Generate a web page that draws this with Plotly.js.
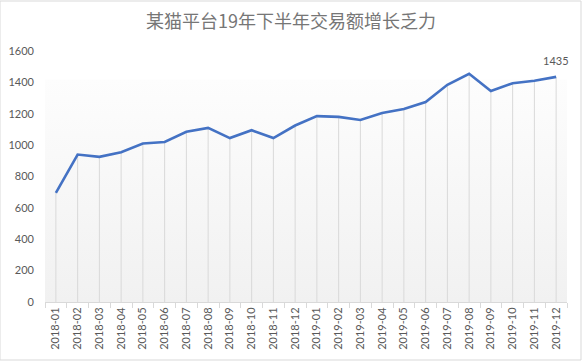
<!DOCTYPE html>
<html>
<head>
<meta charset="utf-8">
<script src="https://cdn.plot.ly/plotly-3.0.1.min.js"></script>
<style>html,body{margin:0;padding:0;background:#fff;}#chart{width:582px;height:361px;}</style>
</head>
<body>
<div id="chart"></div>
<script>
const months = ["2018-01","2018-02","2018-03","2018-04","2018-05","2018-06","2018-07","2018-08","2018-09","2018-10","2018-11","2018-12",
                "2019-01","2019-02","2019-03","2019-04","2019-05","2019-06","2019-07","2019-08","2019-09","2019-10","2019-11","2019-12"];
const amounts = [695, 940, 925, 955, 1010, 1020, 1085, 1110, 1045, 1095, 1045, 1125,
                 1185, 1180, 1160, 1205, 1230, 1275, 1385, 1455, 1345, 1395, 1410, 1435];
const yTicks = [0, 200, 400, 600, 800, 1000, 1200, 1400, 1600];
const titleText = "某猫平台19年下半年交易额增长乏力";

const lastIdx = amounts.length - 1;

const gradSvg = '<svg xmlns="http://www.w3.org/2000/svg" width="10" height="100" preserveAspectRatio="none"><defs><linearGradient id="g" x1="0" y1="0" x2="0" y2="1"><stop offset="0" stop-color="#fdfdfd"/><stop offset="1" stop-color="#f1f1f1"/></linearGradient></defs><rect width="10" height="100" fill="url(#g)"/></svg>';
const gradUri = "data:image/svg+xml;base64," + btoa(gradSvg);

const numFont = {family: "Lato, 'Liberation Sans', sans-serif", size: 11, color: "#595959"};

const traces = [
  { // drop lines
    x: months, y: amounts, type: "scatter", mode: "markers",
    marker: {size: 0.1, opacity: 0},
    error_y: {type: "data", symmetric: false, array: amounts.map(() => 0), arrayminus: amounts,
              color: "#d9d9d9", thickness: 1, width: 0},
    hoverinfo: "skip", showlegend: false, xaxis: "x", yaxis: "y"
  },
  { // tick helper on boundaries
    x: months, y: amounts, type: "scatter", mode: "none", hoverinfo: "skip",
    showlegend: false, xaxis: "x2", yaxis: "y"
  },
  {
    x: months, y: amounts, type: "scatter", mode: "lines",
    line: {color: "#4472c4", width: 2.6},
    showlegend: false, xaxis: "x", yaxis: "y"
  }
];

const layout = {
  width: 582, height: 361,
  margin: {l: 45, r: 15, t: 51, b: 59},
  paper_bgcolor: "#ffffff", plot_bgcolor: "rgba(0,0,0,0)",
  title: {text: titleText, x: 0.5, xanchor: "center", y: 0.94, yanchor: "middle",
          font: {family: "'Noto Sans CJK SC', sans-serif", size: 18, color: "#767676"}},
  xaxis: {
    type: "category", categoryorder: "array", categoryarray: months,
    range: [-0.5, months.length - 0.5],
    showgrid: false, zeroline: false, showline: true, linecolor: "#d9d9d9", linewidth: 1,
    ticks: "", tickangle: -90, tickfont: numFont, fixedrange: true
  },
  xaxis2: {
    type: "category", categoryorder: "array", categoryarray: months,
    overlaying: "x", matches: "x", range: [-0.5, months.length - 0.5],
    tickson: "boundaries", ticks: "outside", ticklen: 5, tickcolor: "#d9d9d9", tickwidth: 1,
    showticklabels: false, showgrid: false, zeroline: false, showline: false, fixedrange: true
  },
  yaxis: {
    range: [0, 1600], tickvals: yTicks, ticktext: yTicks.map(String),
    showgrid: false, zeroline: false, showline: false, ticks: "",
    tickfont: numFont, ticklabelstandoff: 10, fixedrange: true
  },
  annotations: [{
    x: months[lastIdx], y: amounts[lastIdx], xref: "x", yref: "y",
    text: String(amounts[lastIdx]), showarrow: false, yshift: 16,
    font: {family: "Lato, 'Liberation Sans', sans-serif", size: 11, color: "#595959"}
  }],
  images: [{
    source: gradUri, xref: "paper", yref: "y", x: 0, y: 1420, sizex: 1, sizey: 1420,
    xanchor: "left", yanchor: "top", sizing: "stretch", layer: "below"
  }],
  shapes: [{
    type: "rect", xref: "paper", yref: "paper", x0: -45/522, x1: 1 + 14/522, y0: -58/251, y1: 1 + 50/251,
    line: {color: "#d9d9d9", width: 1}, fillcolor: "rgba(0,0,0,0)", layer: "below"
  }]
};

Plotly.newPlot("chart", traces, layout, {staticPlot: true, displayModeBar: false});
</script>
</body>
</html>
